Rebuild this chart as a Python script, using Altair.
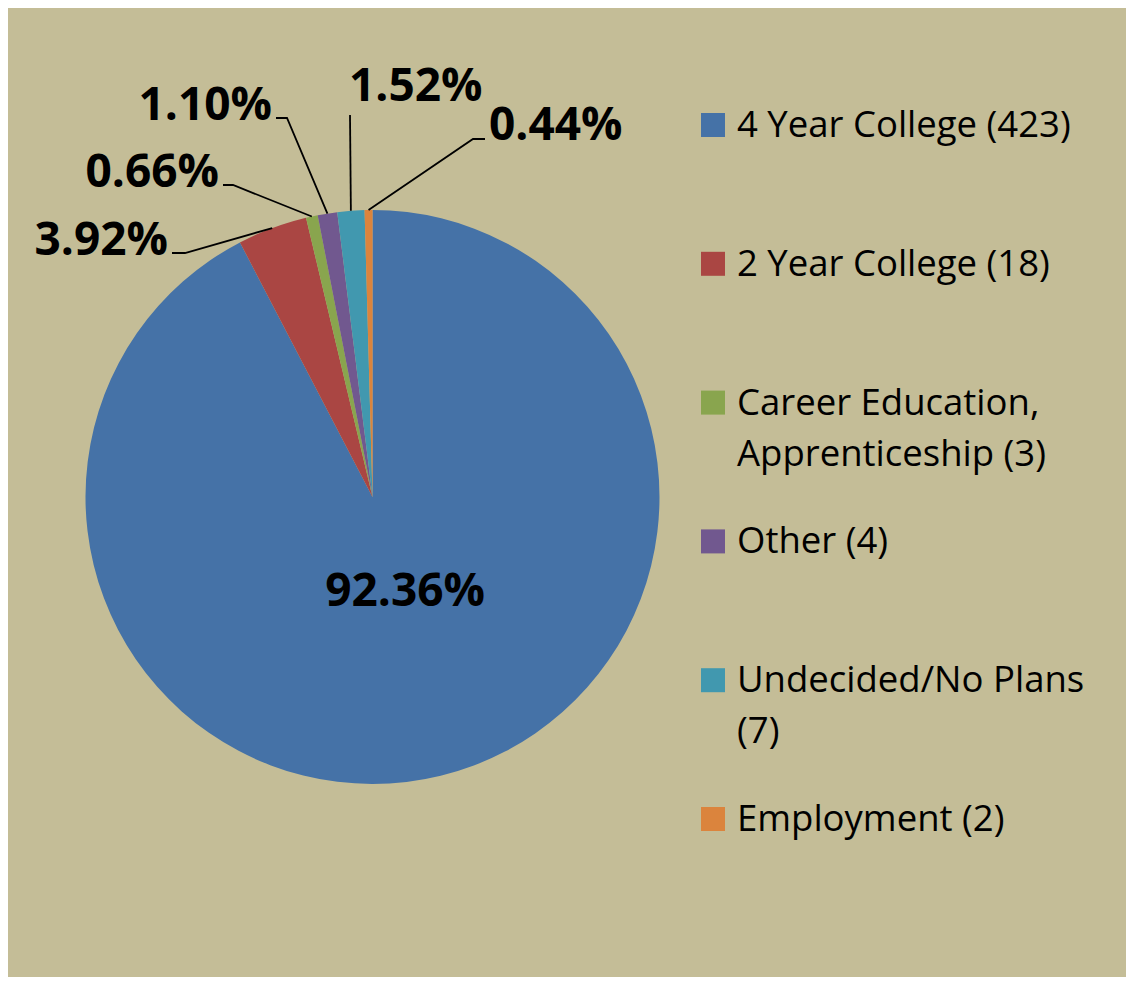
import math
import altair as alt
import pandas as pd

# ---------------- data ----------------
categories = [
    "4 Year College (423)",
    "2 Year College (18)",
    "Career Education, Apprenticeship (3)",
    "Other (4)",
    "Undecided/No Plans (7)",
    "Employment (2)",
]
legend_text = [
    "4 Year College (423)",
    "2 Year College (18)",
    "Career Education,\nApprenticeship (3)",
    "Other (4)",
    "Undecided/No Plans\n(7)",
    "Employment (2)",
]
percents = [92.36, 3.92, 0.66, 1.10, 1.52, 0.44]
pct_labels = ["92.36%", "3.92%", "0.66%", "1.10%", "1.52%", "0.44%"]
colors = ["#4572A7", "#AA4643", "#89A54E", "#71588F", "#4198AF", "#DB843D"]

# ---------------- layout (positions / styles) ----------------
W, H = 1118, 969
CX, CY, R = 364.5, 489.0, 287
FONT = "Open Sans"
# elbow of each outside leader line, relative to pie centre, and horizontal tail length
elbow_rel = [(-187.5, -244), (-139.5, -312), (-85.5, -379), (-22.5, -382), (100.5, -358)]
tail = [-13, -10, -11, 0, 12]
# label anchor offset relative to the tail end, and alignment side
label_off = [(-4, 2), (-4, 2), (-4, 2), (-1, -14), (4, 1)]
label_side = ["right", "right", "right", "left", "left"]

# ---------------- tables ----------------
pie_df = pd.DataFrame({
    "cat": categories,
    "pct": percents,
    "idx": list(range(len(categories))),
    "inner": [pct_labels[0]] + [""] * (len(categories) - 1),
})

line_rows, label_rows = [], []
cum = 0.0
for i, p in enumerate(percents):
    mid = (cum + p / 2) / 100 * 2 * math.pi
    cum += p
    if i == 0:
        continue
    k = i - 1
    ex, ey = CX + R * math.sin(mid), CY - R * math.cos(mid)
    bx, by = CX + elbow_rel[k][0], CY + elbow_rel[k][1]
    tx = bx + tail[k]
    for j, (px, py) in enumerate([(ex, ey), (bx, by), (tx, by)]):
        line_rows.append({"cat": categories[i], "pt": j, "x": px, "y": py})
    label_rows.append({
        "label": pct_labels[i],
        "x": tx + label_off[k][0],
        "y": by + label_off[k][1],
        "side": label_side[k],
    })
line_df = pd.DataFrame(line_rows)
label_df = pd.DataFrame(label_rows)

legend_df = pd.DataFrame({
    "cat": categories,
    "text": legend_text,
    "row": list(range(len(categories))),
})

color_scale = alt.Scale(domain=categories, range=colors)

# ---------------- layers ----------------
arcs = alt.Chart(pie_df).mark_arc(radius=R, stroke=None).encode(
    theta=alt.Theta("pct:Q", stack=True),
    order=alt.Order("idx:Q"),
    color=alt.Color("cat:N", scale=color_scale, legend=None),
    x=alt.value(CX),
    y=alt.value(CY),
)

inner = alt.Chart(pie_df).mark_text(
    radius=112, dx=6, align="center", baseline="alphabetic",
    font=FONT, fontSize=46, fontWeight="bold", color="black",
).encode(
    theta=alt.Theta("pct:Q", stack=True),
    order=alt.Order("idx:Q"),
    text="inner:N",
    x=alt.value(CX),
    y=alt.value(CY),
)

leaders = alt.Chart(line_df).mark_line(color="black", strokeWidth=1.8).encode(
    x=alt.X("x:Q", scale=None),
    y=alt.Y("y:Q", scale=None),
    detail="cat:N",
    order="pt:Q",
)

def outer_labels(side):
    return alt.Chart(label_df).transform_filter(
        alt.datum.side == side
    ).mark_text(
        align=side, baseline="alphabetic", font=FONT, fontSize=46,
        fontWeight="bold", color="black",
    ).encode(
        x=alt.X("x:Q", scale=None),
        y=alt.Y("y:Q", scale=None),
        text="label:N",
    )

leg_y = alt.Y("row:Q", scale=alt.Scale(domain=[0, 5], range=[117, 811]), axis=None)

swatches = alt.Chart(legend_df).mark_square(size=576, opacity=1, stroke=None).encode(
    x=alt.value(705),
    y=leg_y,
    color=alt.Color("cat:N", scale=color_scale, legend=None),
)

leg_text = alt.Chart(legend_df).mark_text(
    align="left", baseline="alphabetic", dy=12, font=FONT, fontSize=36.5,
    lineBreak="\n", lineHeight=51, color="black",
).encode(
    x=alt.value(729),
    y=leg_y,
    text="text:N",
)

chart = alt.layer(
    arcs, inner, leaders, outer_labels("right"), outer_labels("left"), swatches, leg_text
).resolve_scale(
    x="independent", y="independent"
).properties(
    width=W, height=H, background="#C4BD97", padding=0,
    autosize=alt.AutoSizeParams(type="none"),
).configure_view(stroke=None)

chart.save("out.html", embed_options={"renderer": "svg", "actions": False})
